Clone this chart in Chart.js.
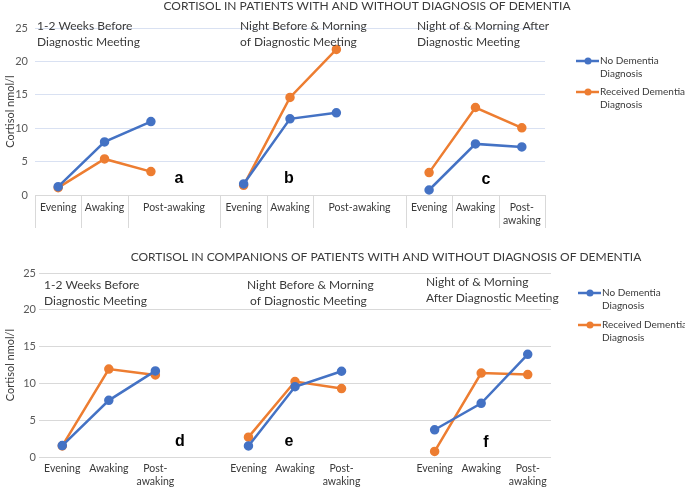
<!DOCTYPE html>
<html>
<head>
<meta charset="utf-8">
<script src="https://cdn.jsdelivr.net/npm/chart.js@4/dist/chart.umd.min.js"></script>
<style>
  html,body{margin:0;padding:0;background:#fff;}
  #wrap{position:relative;width:685px;height:488px;overflow:hidden;}
  canvas{position:absolute;left:0;}
</style>
</head>
<body>
<div id="wrap">
  <canvas id="topChart" width="685" height="240" style="top:0;width:685px;height:240px"></canvas>
  <canvas id="botChart" width="685" height="248" style="top:240px;width:685px;height:248px"></canvas>
</div>
<script>
// ---- data ----
const timepoints = ["Evening", "Awaking", "Post-awaking"];
const seriesNames = ["No Dementia Diagnosis", "Received Dementia Diagnosis"];
const patientPanels = ["a", "b", "c"];
const companionPanels = ["d", "e", "f"];
const periodTitles = [
  ["1-2 Weeks Before", "Diagnostic Meeting"],
  ["Night Before & Morning", "of Diagnostic Meeting"],
  ["Night of & Morning After", "Diagnostic Meeting"]
];
const periodTitlesCompanions = [
  ["1-2 Weeks Before", "Diagnostic Meeting"],
  ["Night Before & Morning", "of Diagnostic Meeting"],
  ["Night of & Morning", "After Diagnostic Meeting"]
];
// values in order: panel1 (Evening, Awaking, Post-awaking), panel2 ..., panel3 ...
const patientNoDx     = [1.25, 7.95, 11.0, 1.65, 11.4, 12.3, 0.75, 7.65, 7.2];
const patientDx       = [1.1, 5.4, 3.5, 1.45, 14.6, 21.8, 3.35, 13.1, 10.05];
const companionNoDx   = [1.55, 7.7, 11.7, 1.5, 9.55, 11.65, 3.7, 7.3, 13.95];
const companionDx     = [1.5, 11.95, 11.15, 2.7, 10.25, 9.3, 0.75, 11.4, 11.2];
const yTicks = [0, 5, 10, 15, 20, 25];
const colors = ["#4472C4", "#ED7D31"];

// ---- helpers ----
const SLOTS = 11;            // 3 panels x 3 time points + 2 gap slots
function slotOf(k){ return Math.floor(k / 3) * 4 + (k % 3); }
function toSlots(values){
  const out = new Array(SLOTS).fill(null);
  values.forEach((v, k) => { out[slotOf(k)] = v; });
  return out;
}
const slotLabels = Array.from({length: SLOTS}, (_, i) => (i % 4 < 3 ? timepoints[i % 4] : ""));

const FONT = "Lato, 'Open Sans', sans-serif";
const TXT = "#3a3a3a";

function makeDatasets(a, b){
  return [a, b].map((vals, i) => ({
    label: seriesNames[i],
    data: toSlots(vals),
    borderColor: colors[i],
    backgroundColor: colors[i],
    pointBackgroundColor: colors[i],
    pointBorderColor: colors[i],
    borderWidth: 2.5,
    pointRadius: 3.5,
    pointHoverRadius: 3.5,
    tension: 0,
    spanGaps: false
  }));
}

function drawLegend(ctx, chart, x0, ys){
  chart.data.datasets.forEach((ds, i) => {
    const y = ys[i];
    ctx.save();
    ctx.strokeStyle = ds.borderColor; ctx.lineWidth = 2.5;
    ctx.beginPath(); ctx.moveTo(x0, y); ctx.lineTo(x0 + 23, y); ctx.stroke();
    ctx.fillStyle = ds.borderColor;
    ctx.beginPath(); ctx.arc(x0 + 12, y, 3.5, 0, Math.PI * 2); ctx.fill();
    ctx.fillStyle = TXT; ctx.font = "10px " + FONT;
    ctx.textAlign = "left"; ctx.textBaseline = "middle";
    const words = ds.label.split(" ");
    const l2 = words.pop();
    ctx.fillText(words.join(" "), x0 + 24, y);
    ctx.fillText(l2, x0 + 24, y + 13);
    ctx.restore();
  });
}

function annotPlugin(opt){
  return {
    id: "annot_" + opt.name,
    afterDraw(chart){
      const ctx = chart.ctx, x = chart.scales.x, area = chart.chartArea;
      ctx.save();
      // main title
      ctx.fillStyle = TXT; ctx.font = "12px " + FONT;
      ctx.textAlign = "center"; ctx.textBaseline = "middle";
      ctx.fillText(opt.title, opt.titleX, opt.titleY);
      // period subtitles
      ctx.font = "12px " + FONT; ctx.fillStyle = TXT; ctx.textAlign = "left";
      opt.subs.forEach((s, i) => {
        const p = opt.subPos[i];
        ctx.fillText(s[0], p[0], p[2]);
        ctx.fillText(s[1], p[1], p[3]);
      });
      // panel letters
      ctx.font = "bold 16px 'Liberation Sans', Arial, sans-serif"; ctx.fillStyle = "#000";
      ctx.textAlign = "center";
      opt.letters.forEach((l, i) => ctx.fillText(l, opt.letterPos[i][0], opt.letterPos[i][1]));
      // x category labels
      ctx.font = "10.5px " + FONT; ctx.fillStyle = TXT;
      const px = i => x.getPixelForValue(i);
      const half = (px(1) - px(0)) / 2;
      for (let g = 0; g < 3; g++){
        const base = g * 4;
        ctx.fillText(timepoints[0], px(base), opt.labY);
        ctx.fillText(timepoints[1], px(base + 1), opt.labY);
        if (opt.wide[g]) {
          ctx.fillText(timepoints[2], px(base + 2) + half, opt.labY);
        } else {
          const parts = ["Post-", "awaking"];
          ctx.fillText(parts[0], px(base + 2), opt.labY);
          ctx.fillText(parts[1], px(base + 2), opt.labY + 13);
        }
      }
      // separators
      if (opt.separators){
        ctx.strokeStyle = "#D9D9D9"; ctx.lineWidth = 1;
        const bounds = [area.left];
        for (let g = 0; g < 3; g++){
          const base = g * 4;
          bounds.push(px(base) + half, px(base + 1) + half);
          bounds.push(g < 2 ? px(base + 3) + half : area.right);
        }
        bounds.forEach(bx => {
          const xx = Math.round(bx) + 0.5;
          ctx.beginPath(); ctx.moveTo(xx, area.bottom); ctx.lineTo(xx, area.bottom + 33); ctx.stroke();
        });
      }
      ctx.restore();
      drawLegend(ctx, chart, opt.legX, opt.legY);
    }
  };
}

function makeChart(id, a, b, o){
  return new Chart(document.getElementById(id), {
    type: "line",
    data: { labels: slotLabels, datasets: makeDatasets(a, b) },
    options: {
      responsive: false,
      animation: false,
      layout: { padding: { left: 0, right: o.padRight, top: o.padTop, bottom: 0 } },
      plugins: { legend: { display: false }, title: { display: false }, tooltip: { enabled: false } },
      scales: {
        x: {
          type: "category",
          offset: true,
          grid: { display: false },
          border: { display: false },
          ticks: { display: false },
          afterFit: s => { s.height = o.xHeight; }
        },
        y: {
          min: 0, max: 25,
          afterBuildTicks: s => { s.ticks = yTicks.map(v => ({ value: v })); },
          ticks: { color: "#595959", font: { size: 11, family: FONT }, padding: o.yPad },
          grid: { color: c => (c.tick && c.tick.value === 0 ? "#D9D9D9" : o.gridColor), drawTicks: false, lineWidth: 1 },
          border: { display: false },
          title: { display: true, text: "Cortisol nmol/l", color: TXT, font: { size: 11, family: FONT } },
          afterFit: s => { s.width = o.yWidth; }
        }
      }
    },
    plugins: [annotPlugin(o)]
  });
}

makeChart("topChart", patientNoDx, patientDx, {
  name: "top",
  padRight: 140, padTop: 28, xHeight: 45, yWidth: 35, yPad: 7, gridColor: "#D9E1F2",
  title: "CORTISOL IN PATIENTS WITH AND WITHOUT DIAGNOSIS OF DEMENTIA", titleX: 367, titleY: 6,
  subs: periodTitles,
  subPos: [[37, 37, 26, 42], [240, 240, 26, 42], [417, 417, 26, 42]],
  letters: patientPanels, letterPos: [[179, 179], [289, 179], [486, 180]],
  labY: 208, wide: [true, true, false], separators: true,
  legX: 576, legY: [61, 92]
});

makeChart("botChart", companionNoDx, companionDx, {
  name: "bot",
  padRight: 134, padTop: 33, xHeight: 31, yWidth: 39, yPad: 3, gridColor: "#D9D9D9",
  title: "CORTISOL IN COMPANIONS OF PATIENTS WITH AND WITHOUT DIAGNOSIS OF DEMENTIA", titleX: 386, titleY: 17,
  subs: periodTitlesCompanions,
  subPos: [[44, 44, 45, 61], [247, 250, 45, 61], [426, 426, 42, 58]],
  letters: companionPanels, letterPos: [[180, 202], [289, 202], [486, 203]],
  labY: 229, wide: [false, false, false], separators: false,
  legX: 578, legY: [53, 85]
});
</script>
</body>
</html>
